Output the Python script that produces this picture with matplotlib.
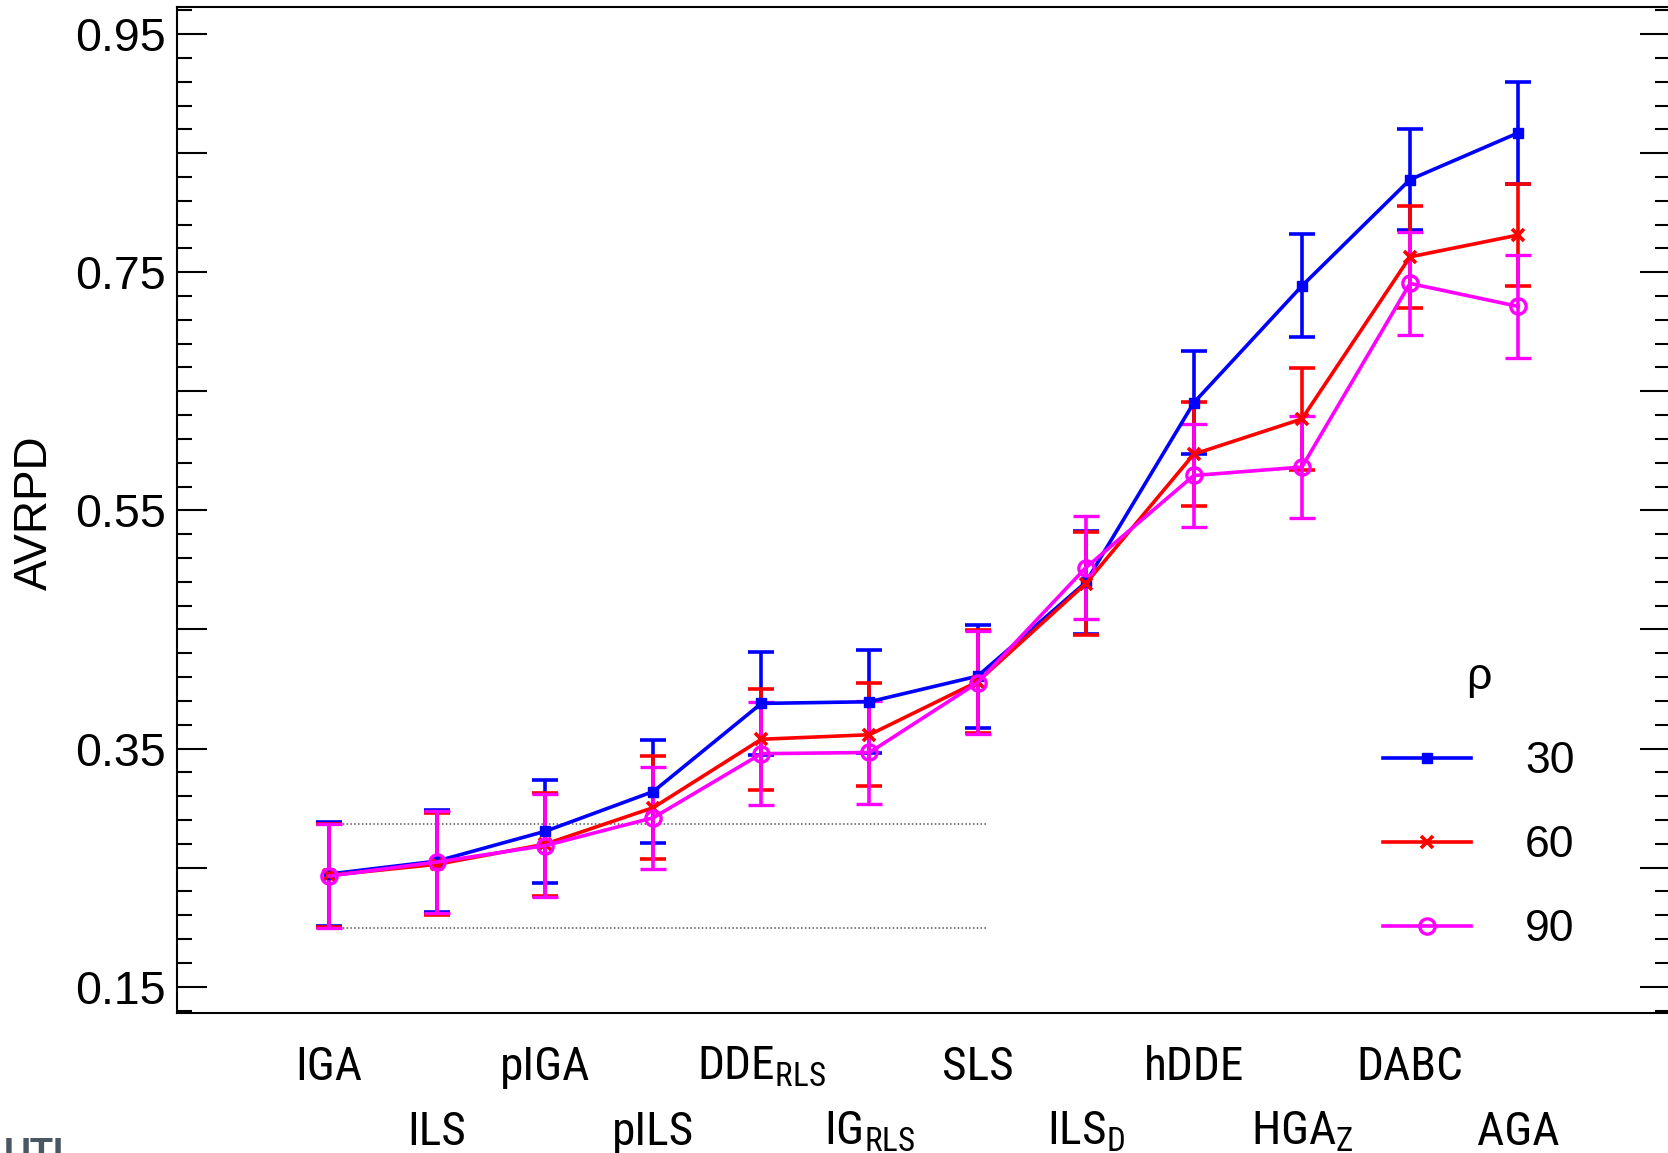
"""AVRPD per algorithm for rho = 30, 60, 90, with error bars."""

import matplotlib.pyplot as plt
import numpy as np
from matplotlib import font_manager
from matplotlib.ticker import MultipleLocator


ALGOS = ["IGA", "ILS", "pIGA", "pILS",
         r"$\mathrm{DDE}_{\mathrm{RLS}}$", r"$\mathrm{IG}_{\mathrm{RLS}}$",
         "SLS", r"$\mathrm{ILS}_{\mathrm{D}}$", "hDDE",
         r"$\mathrm{HGA}_{\mathrm{Z}}$", "DABC", "AGA"]
RHO = ["30", "60", "90"]

AVRPD_30 = [0.2446, 0.2555, 0.2805, 0.3139, 0.3879, 0.3893,
            0.4108, 0.4895, 0.6404, 0.7385, 0.8278, 0.8670]
ERR_30 = [0.0434, 0.0431, 0.0433, 0.0433, 0.0434, 0.0433,
          0.0433, 0.0431, 0.0434, 0.0433, 0.0424, 0.0430]

AVRPD_60 = [0.2435, 0.2528, 0.2697, 0.3004, 0.3578, 0.3616,
            0.4061, 0.4885, 0.5972, 0.6268, 0.7629, 0.7812]
ERR_60 = [0.0434, 0.0430, 0.0433, 0.0433, 0.0424, 0.0431,
          0.0434, 0.0431, 0.0435, 0.0430, 0.0427, 0.0428]

AVRPD_90 = [0.2429, 0.2547, 0.2685, 0.2919, 0.3457, 0.3467,
            0.4053, 0.5018, 0.5793, 0.5864, 0.7406, 0.7213]
ERR_90 = [0.0434, 0.0431, 0.0430, 0.0428, 0.0432, 0.0434,
          0.0431, 0.0434, 0.0430, 0.0428, 0.0434, 0.0431]

Y_TICKS = [0.15, 0.25, 0.35, 0.45, 0.55, 0.65, 0.75, 0.85, 0.95]
Y_TICK_LABELS = ["0.15", "", "0.35", "", "0.55", "", "0.75", "", "0.95"]

STYLES = [
    dict(color="#0000ff", marker="s", ms=6.5, mfc="#0000ff"),
    dict(color="#ff0000", marker="x", ms=9, mew=2.6),
    dict(color="#ff00ff", marker="o", ms=11, mfc="none", mew=2.4),
]

# narrow face for the x labels if one is installed
installed = {f.name for f in font_manager.fontManager.ttflist}
NARROW = next((n for n in ["Liberation Sans Narrow", "Arial Narrow",
                           "Roboto Condensed", "Open Sans Condensed"]
               if n in installed), None)
XLAB_FONT = NARROW or "Liberation Sans"
XLAB_SIZE = 34 if NARROW else 29.5

plt.rcParams["font.family"] = ["Liberation Sans", "DejaVu Sans"]
plt.rcParams["mathtext.fontset"] = "custom"
plt.rcParams["mathtext.rm"] = XLAB_FONT
plt.rcParams["mathtext.it"] = XLAB_FONT + ":italic"
plt.rcParams["mathtext.bf"] = XLAB_FONT + ":bold"


def main():
    fig = plt.figure(figsize=(16.68, 11.53), dpi=100)
    ax = fig.add_axes([0.1059, 0.1212, 0.8953, 0.8730])

    x = np.arange(1, len(ALGOS) + 1)
    handles = []
    for mean, err, style in zip([AVRPD_30, AVRPD_60, AVRPD_90],
                                [ERR_30, ERR_60, ERR_90], STYLES):
        cont = ax.errorbar(x, mean, yerr=err, lw=2.6, elinewidth=2.6,
                           capsize=9.3, capthick=2.6, **style)
        handles.append(cont.lines[0])

    # reference band from the IGA interval
    lo = AVRPD_90[0] - ERR_90[0]
    hi = AVRPD_90[0] + ERR_90[0]
    for yv in (lo, hi):
        ax.plot([0.88, 7.1], [yv, yv], ls=(0, (1, 1.5)), lw=1.1,
                color="#555555", zorder=0.5)

    ax.set_xlim(-0.409, 13.405)
    ax.set_ylim(0.1277, 0.973)

    ax.set_yticks(Y_TICKS, Y_TICK_LABELS)
    ax.yaxis.set_minor_locator(MultipleLocator(0.02, offset=0.01))
    ax.tick_params(axis="y", which="both", direction="in", left=True,
                   right=True, width=1.5, labelsize=33.5, pad=8)
    ax.tick_params(axis="y", which="major", length=21.6)
    ax.tick_params(axis="y", which="minor", length=10.8)

    ax.set_xticks(x[::2], ALGOS[::2])
    ax.set_xticks(x[1::2], ALGOS[1::2], minor=True)
    ax.tick_params(axis="x", which="both", length=0)
    ax.tick_params(axis="x", which="major", pad=22.5)
    ax.tick_params(axis="x", which="minor", pad=69.5)
    for lbl in ax.get_xticklabels(which="both"):
        lbl.set_fontfamily(XLAB_FONT)
        lbl.set_fontsize(XLAB_SIZE)

    for sp in ax.spines.values():
        sp.set_linewidth(1.5)

    ax.set_ylabel("AVRPD", fontsize=33)
    ax.yaxis.set_label_coords(-0.080, 0.497)

    ax.legend(handles, RHO, title="ρ", title_fontsize=32, fontsize=32,
              frameon=False, handlelength=1.98, handletextpad=1.22,
              labelspacing=0.97, borderpad=0, borderaxespad=0,
              loc="upper left", bbox_to_anchor=(1383 / 1668, 1 - 657 / 1153),
              bbox_transform=fig.transFigure)

    fig.text(0.002, 0.014, "UTI", fontsize=27, fontweight="bold",
             color="#4a5661", va="top", ha="left")

    fig.savefig("out.png", dpi=100)
    plt.close(fig)


if __name__ == "__main__":
    main()
